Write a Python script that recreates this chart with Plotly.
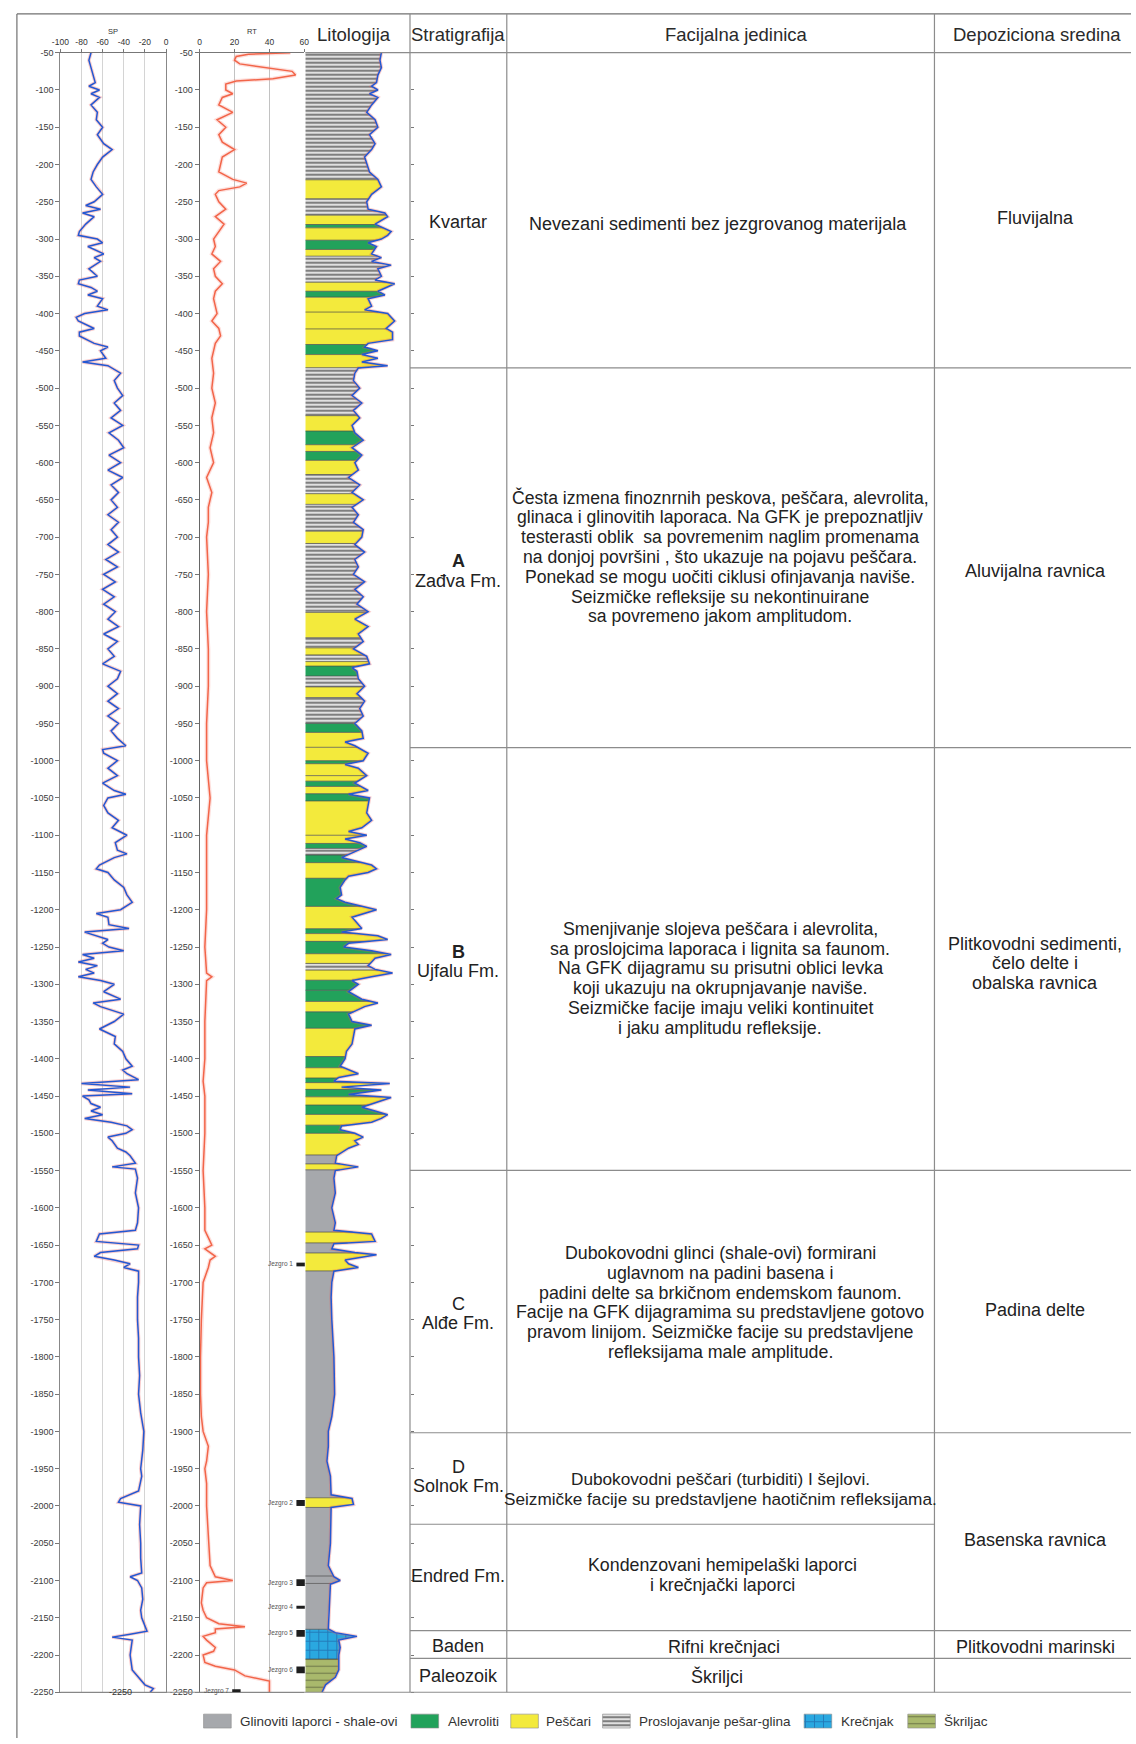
import numpy as np
import plotly.graph_objects as go

W, H = 1136, 1744

# ---------------- DATA ----------------
sp_depth = [
    -50, -60, -70, -80, -90, -95, -100, -105, -110, -120,
    -130, -140, -150, -160, -172, -180, -190, -200, -210, -220,
    -230, -240, -250, -255, -260, -265, -270, -280, -290, -295,
    -300, -305, -310, -320, -325, -330, -340, -350, -355, -360,
    -365, -370, -375, -380, -390, -395, -400, -405, -410, -420,
    -425, -430, -440, -445, -450, -460, -465, -470, -475, -480,
    -490, -500, -510, -520, -530, -540, -550, -560, -570, -580,
    -590, -600, -610, -620, -630, -640, -650, -660, -670, -680,
    -690, -700, -710, -720, -730, -740, -750, -760, -770, -780,
    -790, -800, -810, -820, -830, -840, -850, -860, -870, -880,
    -890, -900, -910, -920, -930, -940, -950, -960, -970, -980,
    -985, -990, -1000, -1010, -1020, -1030, -1040, -1045, -1050, -1060,
    -1070, -1080, -1090, -1100, -1110, -1120, -1125, -1130, -1140, -1145,
    -1150, -1160, -1170, -1180, -1190, -1200, -1205, -1210, -1220, -1225,
    -1230, -1240, -1245, -1250, -1255, -1260, -1265, -1270, -1275, -1280,
    -1285, -1290, -1295, -1300, -1310, -1320, -1325, -1330, -1340, -1350,
    -1360, -1370, -1380, -1390, -1400, -1410, -1415, -1420, -1428, -1433,
    -1438, -1442, -1447, -1450, -1455, -1460, -1465, -1470, -1475, -1480,
    -1485, -1490, -1495, -1500, -1505, -1510, -1520, -1525, -1530, -1540,
    -1545, -1548, -1560, -1580, -1600, -1620, -1630, -1635, -1645, -1650,
    -1655, -1660, -1665, -1670, -1675, -1680, -1685, -1700, -1720, -1750,
    -1775, -1800, -1825, -1850, -1875, -1900, -1925, -1950, -1960, -1980,
    -1990, -1995, -2000, -2025, -2050, -2070, -2090, -2095, -2100, -2110,
    -2125, -2140, -2150, -2160, -2168, -2172, -2176, -2180, -2200, -2220,
    -2230, -2240, -2245, -2250]
sp_value = [
    -71, -73, -71, -69, -67, -73, -63, -71, -63, -71,
    -65, -66, -60, -65, -59, -51, -60, -65, -69, -71,
    -66, -60, -68, -76, -62, -79, -68, -76, -82, -83,
    -65, -60, -74, -59, -68, -62, -73, -65, -82, -83,
    -71, -65, -74, -60, -65, -55, -77, -85, -83, -68,
    -82, -82, -68, -55, -62, -57, -79, -55, -49, -43,
    -49, -46, -41, -49, -43, -52, -41, -54, -45, -40,
    -54, -43, -55, -41, -52, -45, -52, -46, -55, -45,
    -52, -46, -55, -45, -57, -46, -59, -48, -60, -49,
    -59, -48, -55, -45, -59, -46, -55, -49, -60, -43,
    -46, -55, -46, -55, -45, -55, -45, -52, -46, -38,
    -60, -59, -46, -55, -46, -60, -49, -38, -55, -59,
    -55, -45, -51, -37, -48, -46, -37, -49, -63, -66,
    -55, -49, -40, -37, -32, -43, -66, -55, -54, -35,
    -77, -55, -60, -54, -40, -79, -68, -83, -65, -76,
    -68, -83, -62, -49, -59, -43, -69, -62, -40, -49,
    -63, -48, -49, -41, -38, -32, -41, -37, -26, -80,
    -34, -74, -32, -79, -73, -71, -62, -71, -60, -77,
    -52, -37, -32, -38, -55, -51, -46, -38, -34, -29,
    -51, -29, -27, -29, -26, -27, -29, -63, -66, -26,
    -27, -62, -68, -49, -34, -40, -26, -26, -27, -27,
    -26, -26, -25, -26, -24, -21, -22, -24, -23, -26,
    -43, -45, -24, -25, -24, -24, -23, -34, -27, -23,
    -22, -24, -23, -20, -18, -34, -51, -32, -34, -32,
    -26, -20, -12, -15]

rt_depth = [
    -50, -52, -55, -60, -65, -70, -75, -80, -85, -88,
    -92, -100, -105, -110, -120, -130, -140, -150, -160, -170,
    -180, -190, -200, -210, -220, -225, -230, -235, -240, -250,
    -260, -270, -280, -290, -300, -310, -320, -330, -340, -350,
    -360, -370, -380, -390, -400, -410, -420, -430, -440, -450,
    -460, -480, -500, -520, -540, -560, -580, -600, -620, -640,
    -660, -680, -700, -750, -800, -850, -900, -950, -1000, -1050,
    -1100, -1150, -1200, -1250, -1285, -1290, -1295, -1350, -1400, -1430,
    -1450, -1500, -1550, -1600, -1630, -1640, -1650, -1655, -1665, -1670,
    -1680, -1700, -1750, -1800, -1850, -1880, -1900, -1920, -1940, -1950,
    -1970, -2000, -2050, -2080, -2095, -2100, -2103, -2110, -2130, -2140,
    -2150, -2158, -2162, -2165, -2170, -2175, -2180, -2190, -2195, -2200,
    -2210, -2215, -2220, -2228, -2235, -2250]
rt_value = [
    52, 28, 21, 20, 23, 38, 53, 55, 42, 21,
    15, 15, 19, 13, 11, 19, 10, 15, 11, 13,
    20, 13, 12, 11, 19, 27, 23, 11, 9, 11,
    15, 9, 14, 11, 8, 9, 7, 12, 8, 9,
    13, 9, 8, 9, 10, 7, 11, 12, 9, 8,
    7, 8, 7, 9, 7, 8, 6, 8, 4, 7,
    5, 5, 4, 5, 4, 5, 5, 4, 4, 6,
    4, 4, 4, 3, 4, 7, 4, 3, 3, 2,
    3, 3, 2, 3, 3, 5, 7, 3, 9, 6,
    5, 2, 1, 0.5, 0.5, 1, 2, 5, 4, 3,
    4, 4, 5, 6, 9, 19, 4, 2, 1, 2,
    4, 11, 26, 9, 9, 2, 4, 9, 8, 2,
    3, 9, 20, 26, 40, 40]

gr_depth = [
    -50, -60, -70, -80, -90, -95, -100, -105, -110, -120,
    -130, -140, -150, -160, -172, -180, -190, -200, -210, -220,
    -230, -240, -250, -260, -265, -270, -280, -290, -295, -300,
    -305, -310, -320, -325, -330, -335, -340, -350, -355, -360,
    -370, -375, -380, -390, -395, -400, -410, -420, -425, -435,
    -440, -445, -450, -455, -460, -465, -470, -473, -480, -490,
    -500, -510, -520, -530, -540, -550, -560, -570, -580, -590,
    -600, -610, -620, -630, -640, -650, -660, -670, -680, -690,
    -700, -710, -720, -730, -740, -750, -760, -770, -780, -790,
    -800, -810, -820, -830, -840, -850, -860, -870, -875, -880,
    -890, -900, -910, -920, -930, -940, -950, -960, -970, -975,
    -980, -990, -1000, -1005, -1010, -1020, -1030, -1040, -1045, -1050,
    -1060, -1070, -1080, -1090, -1095, -1100, -1105, -1110, -1115, -1120,
    -1130, -1140, -1145, -1150, -1155, -1160, -1170, -1180, -1185, -1190,
    -1200, -1210, -1220, -1225, -1230, -1235, -1240, -1245, -1250, -1255,
    -1260, -1265, -1270, -1275, -1280, -1285, -1290, -1295, -1300, -1310,
    -1320, -1325, -1330, -1340, -1350, -1355, -1360, -1370, -1380, -1390,
    -1400, -1410, -1420, -1425, -1430, -1433, -1438, -1442, -1448, -1452,
    -1458, -1465, -1470, -1475, -1480, -1485, -1490, -1495, -1500, -1505,
    -1510, -1515, -1520, -1530, -1540, -1545, -1550, -1560, -1580, -1600,
    -1620, -1630, -1635, -1645, -1648, -1655, -1660, -1663, -1670, -1675,
    -1680, -1685, -1700, -1720, -1750, -1800, -1850, -1880, -1900, -1920,
    -1940, -1960, -1985, -1990, -1998, -2002, -2050, -2080, -2095, -2100,
    -2105, -2150, -2165, -2170, -2175, -2180, -2190, -2200, -2210, -2220,
    -2230, -2240, -2250]
gr_value = [
    109, 107, 109, 104, 102, 95, 104, 92, 104, 95,
    88, 100, 104, 92, 100, 95, 85, 88, 92, 104,
    109, 95, 88, 90, 114, 118, 100, 123, 118, 109,
    90, 102, 95, 109, 95, 123, 104, 109, 100, 128,
    104, 114, 90, 95, 85, 118, 128, 116, 125, 125,
    90, 85, 104, 81, 104, 81, 118, 76, 71, 69,
    78, 67, 81, 69, 78, 67, 71, 83, 67, 81,
    71, 76, 62, 78, 67, 83, 67, 76, 69, 83,
    81, 71, 85, 71, 76, 69, 85, 71, 83, 74,
    90, 71, 90, 76, 83, 69, 88, 92, 67, 74,
    76, 85, 74, 85, 78, 83, 71, 81, 83, 57,
    71, 90, 83, 57, 76, 88, 71, 90, 62, 92,
    90, 88, 95, 81, 62, 88, 57, 78, 88, 76,
    52, 95, 102, 90, 62, 57, 50, 52, 45, 57,
    102, 67, 76, 81, 52, 104, 118, 62, 55, 95,
    123, 100, 95, 90, 100, 125, 95, 67, 76, 62,
    81, 104, 85, 62, 67, 95, 71, 69, 67, 59,
    57, 50, 76, 48, 41, 121, 52, 109, 62, 123,
    104, 81, 100, 118, 109, 95, 52, 50, 71, 83,
    71, 76, 62, 45, 43, 76, 43, 41, 43, 38,
    43, 41, 95, 100, 41, 38, 71, 102, 57, 62,
    76, 41, 38, 37, 38, 41, 42, 38, 33, 33,
    31, 36, 37, 67, 69, 37, 36, 33, 41, 50,
    36, 33, 33, 43, 74, 48, 50, 48, 48, 48,
    43, 29, 24]

# lithology: boundaries (depth) and code of each bed between them
lith_bounds = [
    -50, -220.5, -246, -268, -280.5, -285, -301.5, -314, -323, -358,
    -370, -378, -398, -420.6, -441.5, -455, -472.7, -537, -557.6, -576,
    -585, -597, -616, -641.7, -656, -692, -708.5, -801, -835, -848.6,
    -858, -867, -873, -886.4, -901, -915.3, -950, -962, -982, -1000,
    -1004, -1020, -1027.4, -1034.5, -1044.3, -1054, -1100, -1111, -1117.7, -1126.6,
    -1136.8, -1157.7, -1195.5, -1225.5, -1232, -1242.4, -1259, -1272, -1281, -1294.5,
    -1308, -1323, -1337, -1359, -1397, -1412, -1425.7, -1432, -1441, -1451,
    -1462, -1474.6, -1489, -1500, -1529, -1541, -1549, -1632.5, -1647, -1660.5,
    -1684.6, -1989, -2002, -2094, -2104, -2165.5, -2205.5, -2250]
lith_code = [
    'P', 'S', 'P', 'S', 'A', 'S', 'A', 'S', 'P', 'S',
    'A', 'S', 'S', 'S', 'A', 'S', 'P', 'S', 'A', 'S',
    'A', 'S', 'P', 'S', 'P', 'S', 'P', 'S', 'P', 'S',
    'P', 'S', 'A', 'P', 'S', 'P', 'A', 'S', 'S', 'A',
    'S', 'S', 'A', 'S', 'A', 'S', 'S', 'A', 'P', 'A',
    'S', 'A', 'S', 'A', 'S', 'A', 'S', 'P', 'S', 'A',
    'A', 'S', 'A', 'S', 'A', 'S', 'A', 'S', 'A', 'S',
    'A', 'S', 'A', 'S', 'G', 'S', 'G', 'S', 'G', 'S',
    'G', 'S', 'G', 'G', 'G', 'K', 'Sk']

core_names = ['Jezgro 1', 'Jezgro 2', 'Jezgro 3', 'Jezgro 4', 'Jezgro 5', 'Jezgro 6', 'Jezgro 7']
core_depth = [-1676, -1996, -2103, -2136, -2171, -2220, -2248]
core_thick = [5, 8, 9, 4, 9, 9, 4]

depth_ticks = list(range(-50, -2251, -50))
sp_ticks = [-100, -80, -60, -40, -20, 0]
rt_ticks = [0, 20, 40, 60]

headers = ['Litologija', 'Stratigrafija', 'Facijalna jedinica', 'Depoziciona sredina']
strat_labels = ['Kvartar', '<b>A</b><br>Zađva Fm.', '<b>B</b><br>Ujfalu Fm.', 'C<br>Alđe Fm.',
                'D<br>Solnok Fm.', 'Endred Fm.', 'Baden', 'Paleozoik']
facies_labels = [
    'Nevezani sedimenti bez jezgrovanog materijala',
    'Česta izmena finoznrnih peskova, peščara, alevrolita,<br>glinaca i glinovitih laporaca. Na GFK je prepoznatljiv<br>testerasti oblik  sa povremenim naglim promenama<br>na donjoj površini , što ukazuje na pojavu peščara.<br>Ponekad se mogu uočiti ciklusi ofinjavanja naviše.<br>Seizmičke refleksije su nekontinuirane<br>sa povremeno jakom amplitudom.',
    'Smenjivanje slojeva peščara i alevrolita,<br>sa proslojcima laporaca i lignita sa faunom.<br>Na GFK dijagramu su prisutni oblici levka<br>koji ukazuju na okrupnjavanje naviše.<br>Seizmičke facije imaju veliki kontinuitet<br>i jaku amplitudu refleksije.',
    'Dubokovodni glinci (shale-ovi) formirani<br>uglavnom na padini basena i<br>padini delte sa brkičnom endemskom faunom.<br>Facije na GFK dijagramima su predstavljene gotovo<br>pravom linijom. Seizmičke facije su predstavljene<br>refleksijama male amplitude.',
    'Dubokovodni peščari (turbiditi) I šejlovi.<br>Seizmičke facije su predstavljene haotičnim refleksijama.',
    'Kondenzovani hemipelaški laporci<br>i krečnjački laporci',
    'Rifni krečnjaci',
    'Škriljci']
env_labels = ['Fluvijalna', 'Aluvijalna ravnica', 'Plitkovodni sedimenti,<br>čelo delte i<br>obalska ravnica',
              'Padina delte', 'Basenska ravnica', 'Plitkovodni marinski']
legend_labels = ['Glinoviti laporci - shale-ovi', 'Alevroliti', 'Peščari',
                 'Proslojavanje pešar-glina', 'Krečnjak', 'Škriljac']
legend_codes = ['G', 'A', 'S', 'P', 'K', 'Sk']

# ---------------- LAYOUT CONSTANTS (pixels) ----------------
Y_TOP, Y_BOT = 48, 1697
FONT = 'Liberation Sans, Arial, sans-serif'
LINE_H = 20


def fx(p):
    return p / W


def fy(p):
    return 1 - p / H


styles = {
    'G': dict(fillcolor='#a6a8ac'),
    'A': dict(fillcolor='#22a25b'),
    'S': dict(fillcolor='#f3ea3c'),
    'P': dict(fillcolor='white',
              fillpattern=dict(shape='-', fgcolor='#000000', bgcolor='white', size=4, solidity=0.62)),
    'K': dict(fillcolor='#2aa8e0',
              fillpattern=dict(shape='+', fgcolor='#1a4c8e', bgcolor='#2aa8e0', size=9, solidity=0.2)),
    'Sk': dict(fillcolor='#a9b96c',
               fillpattern=dict(shape='-', fgcolor='#3c3f2a', bgcolor='#a9b96c', size=7, solidity=0.16)),
}

fig = go.Figure()

# ---------------- lithology fills (x3/y3) ----------------
gd = np.array(gr_depth, float)
gv = np.array(gr_value, float)


def gr_at(d):
    return float(np.interp(-d, -gd, gv))


for top, base, code in zip(lith_bounds[:-1], lith_bounds[1:], lith_code):
    m = (gd < top) & (gd > base)
    xs = [0, gr_at(top)] + list(gv[m]) + [gr_at(base), 0, 0]
    ys = [top, top] + list(gd[m]) + [base, base, top]
    fig.add_trace(go.Scatter(x=xs, y=ys, mode='none', fill='toself', xaxis='x3', yaxis='y3',
                             hoverinfo='skip', showlegend=False, **styles[code]))

bx, by = [], []
for d in lith_bounds[1:-1]:
    bx += [0, gr_at(d), None]
    by += [d, d, None]
fig.add_trace(go.Scatter(x=bx, y=by, mode='lines', line=dict(color='#4a4a4a', width=0.7),
                         xaxis='x3', yaxis='y3', hoverinfo='skip', showlegend=False))

# curves with faint red halo
fig.add_trace(go.Scatter(x=gr_value, y=gr_depth, mode='lines', xaxis='x3', yaxis='y3',
                         line=dict(color='rgba(235,90,90,0.3)', width=3.5), hoverinfo='skip', showlegend=False))
fig.add_trace(go.Scatter(x=gr_value, y=gr_depth, mode='lines', xaxis='x3', yaxis='y3',
                         line=dict(color='#2358d2', width=1.5), name='GR', showlegend=False))

fig.add_trace(go.Scatter(x=sp_value, y=sp_depth, mode='lines', xaxis='x', yaxis='y',
                         line=dict(color='rgba(235,90,90,0.3)', width=3.5), hoverinfo='skip', showlegend=False))
fig.add_trace(go.Scatter(x=sp_value, y=sp_depth, mode='lines', xaxis='x', yaxis='y',
                         line=dict(color='#2358d2', width=1.5), name='SP', showlegend=False))

fig.add_trace(go.Scatter(x=rt_value, y=rt_depth, mode='lines', xaxis='x2', yaxis='y2',
                         line=dict(color='rgba(250,150,140,0.3)', width=4), hoverinfo='skip', showlegend=False))
fig.add_trace(go.Scatter(x=rt_value, y=rt_depth, mode='lines', xaxis='x2', yaxis='y2',
                         line=dict(color='#f26549', width=1.5), name='RT', showlegend=False))

# ---------------- legend swatches on pixel axis (x4/y4) ----------------
sw_x0 = [197, 407, 508, 601, 805, 910]
txt_x = [232, 442, 542, 636, 840, 945]
for x0, code in zip(sw_x0, legend_codes):
    fig.add_trace(go.Scatter(x=[x0, x0 + 28, x0 + 28, x0, x0], y=[1719, 1719, 1733, 1733, 1719],
                             mode='lines', fill='toself', line=dict(color='#8a8a8a', width=0.6),
                             xaxis='x4', yaxis='y4', hoverinfo='skip', showlegend=False, **styles[code]))

# ---------------- shapes ----------------
LC = '#8c8c8c'
shapes = []


def hline(y, x0, x1, color=LC, w=1.2):
    shapes.append(dict(type='line', xref='paper', yref='paper', x0=fx(x0), x1=fx(x1), y0=fy(y), y1=fy(y),
                       line=dict(color=color, width=w)))


def vline(x, y0, y1, color=LC, w=1.2):
    shapes.append(dict(type='line', xref='paper', yref='paper', x0=fx(x), x1=fx(x), y0=fy(y0), y1=fy(y1),
                       line=dict(color=color, width=w)))


# outer frame
vline(8, 9, 1743, '#707070')
hline(9, 8, 1136, '#707070')
# table
vline(406, 9, Y_BOT)
vline(504, 9, Y_BOT)
vline(937, 9, Y_BOT)
hline(Y_TOP, 300, 1136)
for yy in [365, 747, 1172, 1436, 1635, 1663]:
    hline(yy, 406, 1136)
hline(1528, 406, 937)
hline(Y_BOT, 52, 1136)

# cores
box_x0 = [291, 291, 291, 291, 291, 291, 226]
for d, t, x0 in zip(core_depth, core_thick, box_x0):
    shapes.append(dict(type='rect', xref='paper', yref='y', x0=fx(x0), x1=fx(x0 + 8.5),
                       y0=d + t / 2, y1=d - t / 2, fillcolor='#1e1e1e', line=dict(width=0)))

# ---------------- annotations ----------------
anns = []


def ann(text, x, y, size, color='#222', xanchor='center', xref='paper', yref='paper'):
    anns.append(dict(text=text, x=x, y=y, xref=xref, yref=yref, xanchor=xanchor, yanchor='middle',
                     showarrow=False, font=dict(family=FONT, size=size, color=color)))


def block(text, xc, yc, size, color='#222'):
    lines = text.split('<br>')
    n = len(lines)
    for i, ln in enumerate(lines):
        ann(ln, fx(xc), fy(yc + (i - (n - 1) / 2) * LINE_H), size, color)


head_x = [349, 455, 737, 1041]
for t, x in zip(headers, head_x):
    ann(t, fx(x), fy(30), 18.5, '#2a2a2a')
ann('SP', fx(105.5), fy(27), 7.5, '#333')
ann('RT', fx(246), fy(27), 7.5, '#333')

strat_y = [218, 569, 962, 1316, 1480, 1580, 1650, 1681]
for t, y in zip(strat_labels, strat_y):
    block(t, 455, y, 18)

fac_x = [718, 720, 720, 720, 720, 722, 724, 717]
fac_y = [220, 555, 979, 1305, 1493, 1579, 1651, 1681]
fac_size = [18, 17.6, 17.8, 17.8, 17.2, 17.8, 18, 18]
for t, x, y, s in zip(facies_labels, fac_x, fac_y, fac_size):
    block(t, x, y, s)

env_y = [214, 569, 964, 1313, 1544, 1651]
for t, y in zip(env_labels, env_y):
    block(t, 1039, y, 18)

for name, d, x0 in zip(core_names, core_depth, box_x0):
    ann(name, fx(x0 - 1.5), d, 6.5, '#555', xanchor='right', yref='y')

ann('-2250', fx(113), fy(Y_BOT), 9, '#333')

for t, x in zip(legend_labels, txt_x):
    ann(t, x, 1726, 13.5, '#333', xanchor='left', xref='x4', yref='y4')

# ---------------- axes ----------------
ydom = [fy(Y_BOT), fy(Y_TOP)]
tick_txt = [str(v) for v in depth_ticks]
axis_font = dict(family=FONT, size=9, color='#3a3a3a')

fig.update_layout(
    width=W, height=H, autosize=False,
    margin=dict(l=0, r=0, t=0, b=0, pad=0),
    paper_bgcolor='white', plot_bgcolor='white',
    showlegend=False,
    shapes=shapes, annotations=anns,
    xaxis=dict(domain=[fx(52), fx(159)], range=[-100, 0], side='top', anchor='y',
               tickvals=sp_ticks, ticktext=[str(v) for v in sp_ticks], ticks='outside', ticklen=3,
               tickcolor='#777', tickfont=dict(family=FONT, size=8.5, color='#333'),
               showgrid=True, gridcolor='#d4d4d4', gridwidth=1, zeroline=False,
               showline=True, linecolor='#777', linewidth=1, mirror=True, fixedrange=True),
    yaxis=dict(domain=ydom, range=[-2250, -50], anchor='x', tickvals=depth_ticks, ticktext=tick_txt,
               ticks='outside', ticklen=4, tickcolor='#777', tickfont=axis_font,
               showgrid=False, zeroline=False, showline=True, linecolor='#888', linewidth=1,
               mirror=True, fixedrange=True),
    xaxis2=dict(domain=[fx(193), fx(299)], range=[0, 60], side='top', anchor='y2',
                tickvals=rt_ticks, ticks='outside', ticklen=3, tickcolor='#777',
                tickfont=dict(family=FONT, size=8.5, color='#333'),
                showgrid=True, gridcolor='#c2c2c2', gridwidth=1, zeroline=False,
                showline=True, linecolor='#777', linewidth=1, mirror=True, fixedrange=True),
    yaxis2=dict(domain=ydom, range=[-2250, -50], anchor='x2', matches='y', tickvals=depth_ticks,
                ticktext=tick_txt, ticks='outside', ticklen=4, tickcolor='#777', tickfont=axis_font,
                showgrid=False, zeroline=False, showline=True, linecolor='#666', linewidth=1,
                fixedrange=True),
    xaxis3=dict(domain=[fx(300), fx(406)], range=[0, 150], anchor='y3', showgrid=False,
                zeroline=False, showline=False, showticklabels=False, ticks='', fixedrange=True),
    yaxis3=dict(domain=ydom, range=[-2250, -50], anchor='x3', matches='y', side='right',
                tickvals=depth_ticks, ticks='outside', ticklen=3, tickcolor='#777',
                showticklabels=False, showgrid=False, zeroline=False, showline=False, fixedrange=True),
    xaxis4=dict(domain=[0, 1], range=[0, W], anchor='y4', visible=False, fixedrange=True),
    yaxis4=dict(domain=[0, 40 / H], range=[H, H - 40], anchor='x4', visible=False, fixedrange=True),
)

fig.write_html('out.html')
